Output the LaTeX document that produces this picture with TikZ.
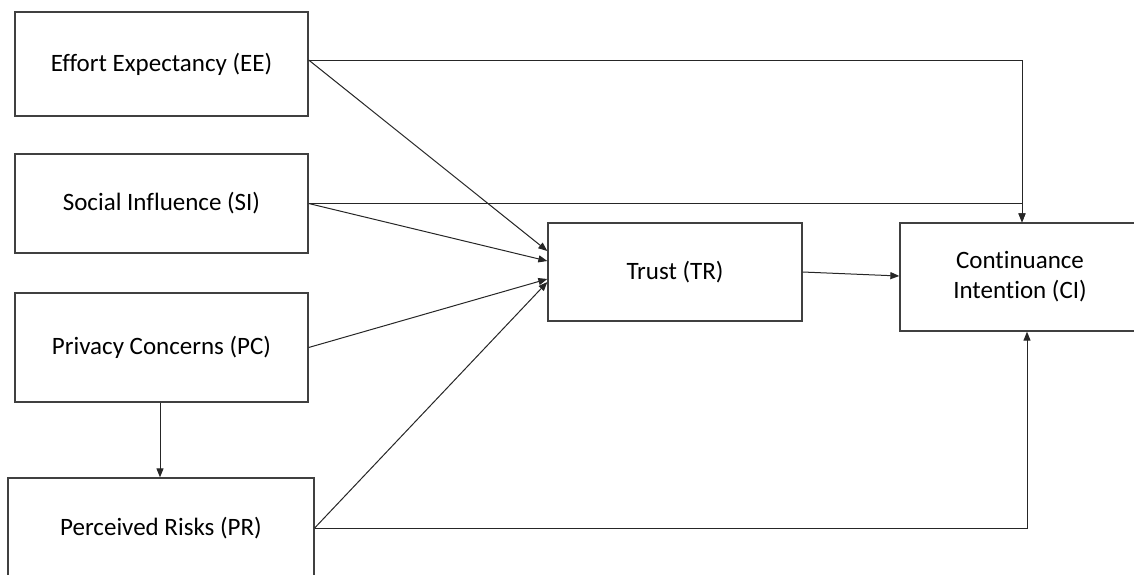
\documentclass[tikz,border=0pt]{standalone}
\usepackage{fontspec}
\setmainfont{Carlito}[Ligatures=NoCommon]
\usetikzlibrary{arrows.meta}
\tikzset{
  construct/.style={draw=black!75, line width=1.3pt, rectangle, inner sep=0pt,
    align=center, font=\fontsize{25}{30}\selectfont, text=black},
  link/.style={draw=black!85, line width=1pt,
    -{Triangle[length=9pt,width=7pt]}},
}
\begin{document}
\begin{tikzpicture}[x=1pt,y=-1pt]
\useasboundingbox (0,0) rectangle (1134,574);

% constructs
\node[construct, minimum width=293pt, minimum height=104pt] (EE) at (161.5,64) {Effort Expectancy (EE)};
\node[construct, minimum width=293pt, minimum height=99pt]  (SI) at (161.5,203.5) {Social Influence (SI)};
\node[construct, minimum width=293pt, minimum height=109pt] (PC) at (161.5,347.5) {Privacy Concerns (PC)};
\node[construct, minimum width=306pt, minimum height=100pt] (PR) at (161,528) {Perceived Risks (PR)};
\node[construct, minimum width=254pt, minimum height=98pt]  (TR) at (675,272) {Trust (TR)};
\node[construct, minimum width=240pt, minimum height=108pt] (CI) at (1020,277) {Continuance\\Intention (CI)};

% paths into trust
\draw[link] (EE.east |- 0,60) -- (TR.west |- 0,251);
\draw[link] (SI.east) -- (TR.west |- 0,261);
\draw[link] (PC.east) -- (TR.west |- 0,279);
\draw[link] (PR.east) -- (TR.west |- 0,282);

% paths into continuance intention
\draw[link] (EE.east |- 0,60) -| ([xshift=2pt]CI.north);
\draw[link] (SI.east) -| ([xshift=2pt]CI.north);
\draw[link] (TR.east) -- (CI.west |- 0,276);
\draw[link] (PR.east) -| ([xshift=7pt]CI.south);

% privacy concerns to perceived risks
\draw[link] (PC.south -| 160,0) -- (PR.north -| 160,0);
\end{tikzpicture}
\end{document}
